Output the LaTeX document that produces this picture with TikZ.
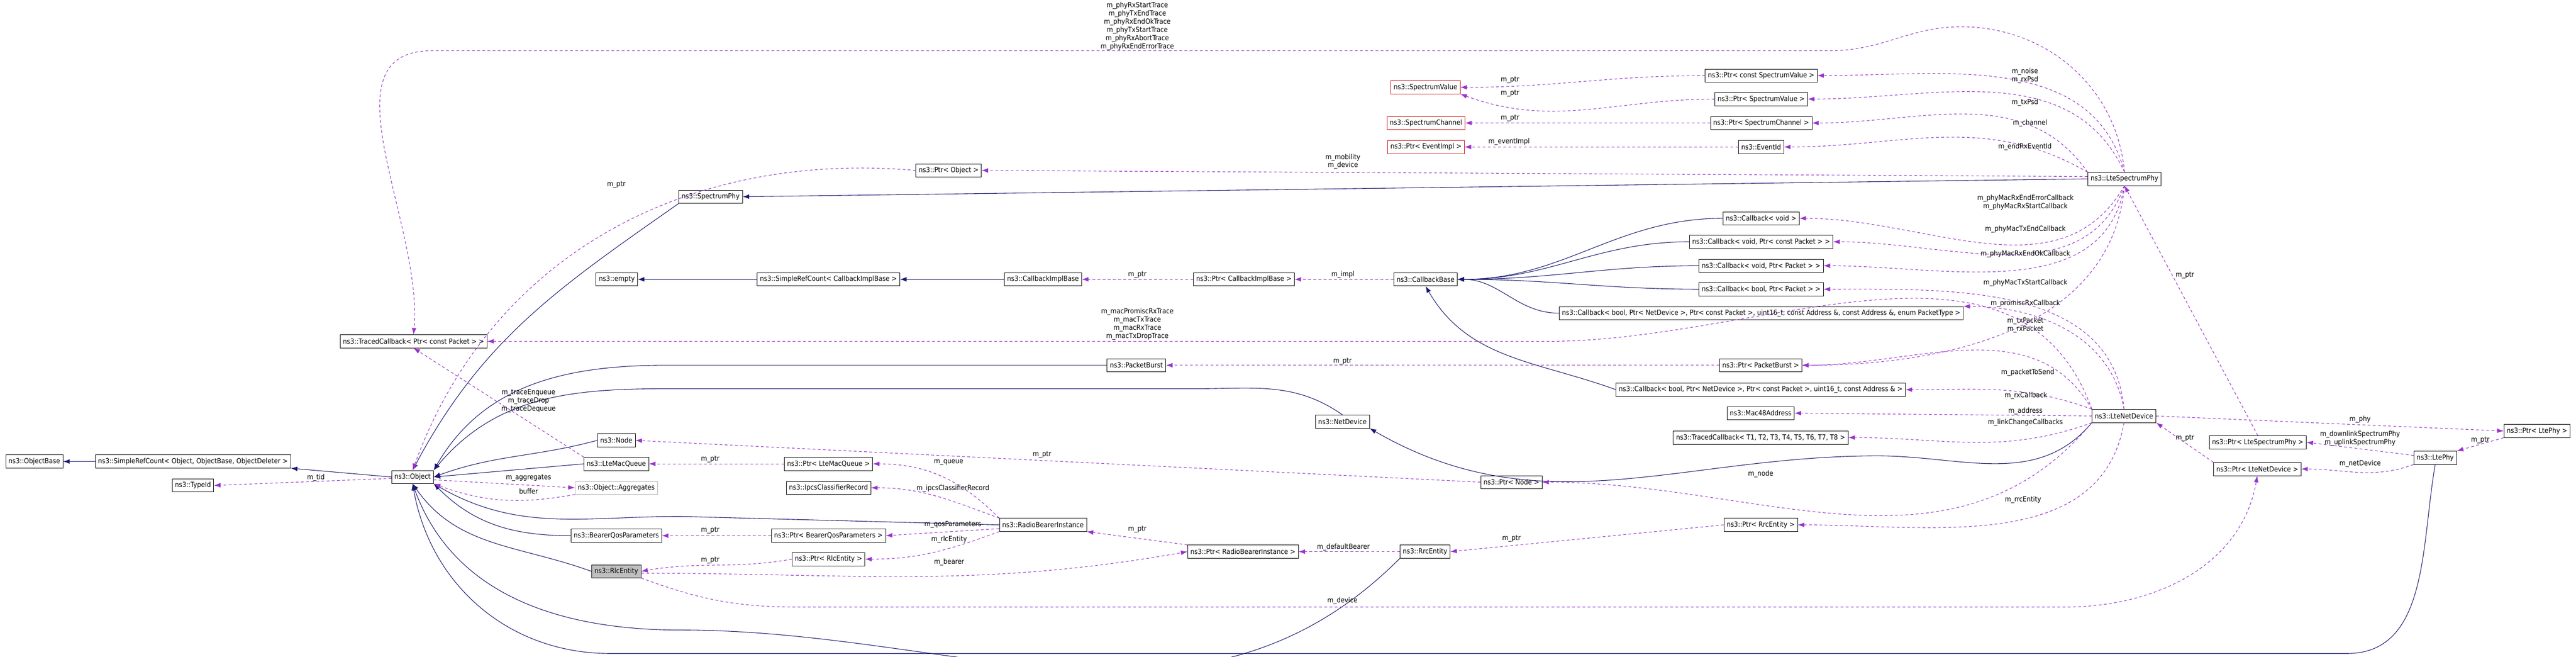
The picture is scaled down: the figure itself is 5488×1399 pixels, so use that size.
\documentclass[tikz,border=0pt]{standalone}
\usepackage{fontspec}
\setmainfont{DejaVu Sans Condensed}
\usetikzlibrary{arrows.meta}
\definecolor{inhcol}{HTML}{191970}
\definecolor{usecol}{HTML}{9A32CD}
\tikzset{
  cls/.style={draw, fill=white, minimum height=14pt, inner xsep=3pt, inner ysep=1pt, font=\fontsize{7.5}{8.75}\selectfont},
  redcls/.style={cls, draw=red!80!black},
  greycls/.style={cls, draw=black!30},
  inh/.style={draw=inhcol, line width=0.6pt, -{Latex[length=7pt,width=5pt]}},
  use/.style={draw=usecol, line width=0.6pt, dash pattern=on 3pt off 2.5pt, -{Latex[length=7pt,width=5pt]}},
  lbl/.style={font=\fontsize{7.5}{8.75}\selectfont, align=center, inner sep=0pt}
}
\begin{document}
\begin{tikzpicture}[x=0.5pt, y=0.5pt]
        \useasboundingbox (0,0) rectangle (5488,-1399);

        % Object and its bases
        \node[cls] (objbase) at (73,-983) {ns3::ObjectBase};
        \node[cls] (srcobj) at (411,-983) {ns3::SimpleRefCount< Object, ObjectBase, ObjectDeleter >};
        \node[cls] (typeid) at (411,-1034) {ns3::TypeId};
        \node[cls] (obj) at (879,-1016) {ns3::Object};
        \node[cls] (tcb) at (881,-727) {ns3::TracedCallback< Ptr< const Packet > >};

        % Column 1
        \node[cls] (spphy) at (1514,-419) {ns3::SpectrumPhy};
        \node[cls] (empty) at (1314,-595) {ns3::empty};
        \node[cls] (node) at (1313,-938) {ns3::Node};
        \node[cls] (lmq) at (1313,-988) {ns3::LteMacQueue};
        \node[greycls] (aggr) at (1313,-1039) {ns3::Object::Aggregates};
        \node[cls] (bqp) at (1313,-1141) {ns3::BearerQosParameters};
        \node[cls, fill=black!25] (rlc) at (1313,-1217) {ns3::RlcEntity};

        % Column 2
        \node[cls] (pobj) at (2021,-363) {ns3::Ptr< Object >};
        \node[cls] (srccb) at (1765,-595) {ns3::SimpleRefCount< CallbackImplBase >};
        \node[cls] (plmq) at (1765,-988) {ns3::Ptr< LteMacQueue >};
        \node[cls] (ipcs) at (1765,-1039) {ns3::IpcsClassifierRecord};
        \node[cls] (pbqp) at (1765,-1141) {ns3::Ptr< BearerQosParameters >};
        \node[cls] (prlc) at (1765,-1191) {ns3::Ptr< RlcEntity >};

        % Column 3
        \node[cls] (cbimpl) at (2222,-595) {ns3::CallbackImplBase};
        \node[cls] (pb) at (2421,-778) {ns3::PacketBurst};
        \node[cls] (rbi) at (2222,-1118) {ns3::RadioBearerInstance};
        \node[cls] (pcbimpl) at (2650,-595) {ns3::Ptr< CallbackImplBase >};
        \node[cls] (prbi) at (2648,-1175) {ns3::Ptr< RadioBearerInstance >};
        \node[cls] (netdev) at (2860,-898) {ns3::NetDevice};
        \node[cls] (rrc) at (3036,-1175) {ns3::RrcEntity};
        \node[cls] (pnode) at (3220,-1027) {ns3::Ptr< Node >};

        % Column 4
        \node[redcls] (sv) at (3037,-186) {ns3::SpectrumValue};
        \node[redcls] (sc) at (3038,-262) {ns3::SpectrumChannel};
        \node[redcls] (pev) at (3038,-313) {ns3::Ptr< EventImpl >};
        \node[cls] (cbb) at (3037,-595) {ns3::CallbackBase};

        % Column 5
        \node[cls] (pcsv) at (3752,-161) {ns3::Ptr< const SpectrumValue >};
        \node[cls] (psv) at (3752,-211) {ns3::Ptr< SpectrumValue >};
        \node[cls] (psc) at (3752,-262) {ns3::Ptr< SpectrumChannel >};
        \node[cls] (eid) at (3752,-313) {ns3::EventId};
        \node[cls] (cbv) at (3752,-465) {ns3::Callback< void >};
        \node[cls] (cbvcp) at (3752,-515) {ns3::Callback< void, Ptr< const Packet > >};
        \node[cls] (cbvp) at (3752,-566) {ns3::Callback< void, Ptr< Packet > >};
        \node[cls] (cbbp) at (3752,-616) {ns3::Callback< bool, Ptr< Packet > >};
        \node[cls] (cbbig) at (3752,-667) {ns3::Callback< bool, Ptr< NetDevice >, Ptr< const Packet >, uint16\_t, const Address \&, const Address \&, enum PacketType >};
        \node[cls] (ppb) at (3751,-778) {ns3::Ptr< PacketBurst >};
        \node[cls] (cbrx) at (3751,-830) {ns3::Callback< bool, Ptr< NetDevice >, Ptr< const Packet >, uint16\_t, const Address \& >};
        \node[cls] (mac) at (3751,-880) {ns3::Mac48Address};
        \node[cls] (tcbt) at (3751,-932) {ns3::TracedCallback< T1, T2, T3, T4, T5, T6, T7, T8 >};
        \node[cls] (prrc) at (3751,-1118) {ns3::Ptr< RrcEntity >};

        % LTE phy and device
        \node[cls] (lsp) at (4526,-381) {ns3::LteSpectrumPhy};
        \node[cls] (lnd) at (4525,-886) {ns3::LteNetDevice};
        \node[cls] (plsp) at (4810,-942) {ns3::Ptr< LteSpectrumPhy >};
        \node[cls] (plnd) at (4809,-999) {ns3::Ptr< LteNetDevice >};
        \node[cls] (ltephy) at (5188,-975) {ns3::LtePhy};
        \node[cls] (pltephy) at (5405,-918) {ns3::Ptr< LtePhy >};

        % Inheritance
        \draw[inh] (obj.west) -- (srcobj.south east);
        \draw[inh] (srcobj.west) -- (objbase.east);
        \draw[inh] (spphy.south west) to[out=215,in=62] (obj.north);
        \draw[inh] (lsp.west) -- (spphy.east);
        \draw[inh] (pb.west) -- (1420,-778) to[out=180,in=60] (obj.north east);
        \draw[inh] (netdev.north) to[out=145,in=0] (2550,-828) -- (1420,-828) to[out=180,in=50] (obj.north east);
        \draw[inh] (lnd.south west) to[out=230,in=0] (4000,-971) to[out=180,in=-30] (netdev.south east);
        \draw[inh] (node.west) to[out=195,in=20] (obj.east);
        \draw[inh] (lmq.west) -- (obj.east);
        \draw[inh] (rbi.west) -- (1450,-1100) to[out=180,in=-30] (obj.south east);
        \draw[inh] (bqp.west) to[out=180,in=-45] (obj.south east);
        \draw[inh] (rlc.west) to[out=160,in=-55] (obj.south);
        \draw[inh] (rrc.south west) to[out=225,in=0] (1450,-1342) to[out=180,in=-70] (obj.south);
        \draw[inh] (ltephy.south) to[out=260,in=0] (5000,-1392) -- (1300,-1392) to[out=180,in=-80] (obj.south);
        \foreach \cb in {cbv, cbvcp, cbvp, cbbp, cbbig}
          \draw[inh] (\cb.west) to[out=180,in=0] (cbb.east);
        \draw[inh] (cbrx.west) to[out=160,in=-60] (cbb.south);
        \draw[inh] (cbimpl.west) -- (srccb.east);
        \draw[inh] (srccb.west) -- (empty.east);

        % Object members
        \draw[use] (obj.west) ++(0,-3) -- (typeid.east);
        \node[lbl] (ltid) at (673,-1017) {m\_tid};
        \draw[use] (obj.east) ++(0,-6) -- (aggr.west);
        \node[lbl] (laggr) at (1126,-1018) {m\_aggregates};
        \draw[use] (aggr.south west) to[out=190,in=-20] (obj.south east);
        \node[lbl] (lbuf) at (1126,-1046) {buffer};
        \draw[use] (lmq.north west) -- (tcb.south);
        \node[lbl] (ltrace) at (1126,-854) {m\_traceEnqueue\\m\_traceDrop\\m\_traceDequeue};
        \draw[use] (pobj.west) to[out=175,in=70] (obj.north);
        \node[lbl] (lpobj) at (1313,-393) {m\_ptr};

        % Bearer members
        \draw[use] (plmq.west) -- (lmq.east);
        \node[lbl] (lplmq) at (1513,-978) {m\_ptr};
        \draw[use] (rbi.north west) to[out=135,in=0] (plmq.east);
        \node[lbl] (lqueue) at (2021,-985) {m\_queue};
        \draw[use] (rbi.north west) to[out=160,in=0] (ipcs.east);
        \node[lbl] (lipcs) at (2030,-1040) {m\_ipcsClassifierRecord};
        \draw[use] (rbi.west) ++(0,-8) -- (pbqp.east);
        \node[lbl] (lqos) at (2030,-1117) {m\_qosParameters};
        \draw[use] (pbqp.west) -- (bqp.east);
        \node[lbl] (lpbqp) at (1513,-1130) {m\_ptr};
        \draw[use] (rbi.south west) to[out=200,in=0] (prlc.east);
        \node[lbl] (lrlcent) at (2022,-1149) {m\_rlcEntity};
        \draw[use] (prlc.west) to[out=190,in=10] (rlc.east);
        \node[lbl] (lprlc) at (1513,-1193) {m\_ptr};
        \draw[use] (rlc.east) ++(0,-4) to[out=0,in=190] (prbi.west);
        \node[lbl] (lbearer) at (2022,-1197) {m\_bearer};
        \draw[use] (prbi.north west) -- (rbi.south east);
        \node[lbl] (lprbi) at (2423,-1128) {m\_ptr};
        \draw[use] (rrc.west) -- (prbi.east);
        \node[lbl] (ldefb) at (2862,-1165) {m\_defaultBearer};
        \draw[use] (prrc.west) -- (rrc.east);
        \node[lbl] (lprrc) at (3220,-1147) {m\_ptr};
        \draw[use] (rlc.south east) to[out=-20,in=180] (1700,-1293) -- (4400,-1293) to[out=0,in=260] (plnd.south);
        \node[lbl] (ldev) at (2860,-1280) {m\_device};

        % Callback members
        \draw[use] (cbb.west) -- (pcbimpl.east);
        \node[lbl] (limpl) at (2861,-585) {m\_impl};
        \draw[use] (pcbimpl.west) -- (cbimpl.east);
        \node[lbl] (lpcbimpl) at (2423,-585) {m\_ptr};

        % Spectrum members
        \draw[use] (pcsv.west) to[out=180,in=0] (sv.east);
        \node[lbl] (lpcsv) at (3217,-170) {m\_ptr};
        \draw[use] (psv.west) to[out=180,in=-20] (sv.south east);
        \node[lbl] (lpsv) at (3217,-199) {m\_ptr};
        \draw[use] (psc.west) -- (sc.east);
        \node[lbl] (lpsc) at (3217,-252) {m\_ptr};
        \draw[use] (eid.west) -- (pev.east);
        \node[lbl] (lpev) at (3215,-302) {m\_eventImpl};

        % LteSpectrumPhy members
        \draw[use] (lsp.north) to[out=95,in=0] (4178,-57) to[out=180,in=0] (3900,-108) -- (920,-108) to[out=180,in=85] (tcb.north);
        \node[lbl] (lphytr) at (2423,-56) {m\_phyRxStartTrace\\m\_phyTxEndTrace\\m\_phyRxEndOkTrace\\m\_phyTxStartTrace\\m\_phyRxAbortTrace\\m\_phyRxEndErrorTrace};
        \draw[use] (lsp.north) to[out=105,in=0] (pcsv.east);
        \node[lbl] (lnoise) at (4314,-161) {m\_noise\\m\_rxPsd};
        \draw[use] (lsp.north) to[out=115,in=0] (psv.east);
        \node[lbl] (ltxpsd) at (4314,-218) {m\_txPsd};
        \draw[use] (lsp.north west) to[out=125,in=0] (psc.east);
        \node[lbl] (lchan) at (4325,-262) {m\_channel};
        \draw[use] (lsp.north west) to[out=150,in=0] (eid.east);
        \node[lbl] (lendrx) at (4314,-313) {m\_endRxEventId};
        \draw[use] (lsp.west) ++(0,5) -- (pobj.east);
        \node[lbl] (lmob) at (2861,-344) {m\_mobility\\m\_device};
        \draw[use] (lsp.south) to[out=240,in=0] (cbv.east);
        \node[lbl] (lcbv) at (4315,-431) {m\_phyMacRxEndErrorCallback\\m\_phyMacRxStartCallback};
        \draw[use] (lsp.south) to[out=250,in=0] (cbvcp.east);
        \node[lbl] (lcbvcp) at (4315,-488) {m\_phyMacTxEndCallback};
        \draw[use] (lsp.south) to[out=260,in=0] (cbvp.east);
        \node[lbl] (lcbvp) at (4315,-541) {m\_phyMacRxEndOkCallback};
        \draw[use] (lsp.south) to[out=265,in=0] (ppb.east);
        \node[lbl] (lrxpk) at (4315,-692) {m\_txPacket\\m\_rxPacket};

        % LteNetDevice members
        \draw[use] (lnd.north) to[out=95,in=0] (cbbp.east);
        \node[lbl] (lcbbp) at (4315,-602) {m\_phyMacTxStartCallback};
        \draw[use] (lnd.north) to[out=100,in=0] (cbbig.north east);
        \node[lbl] (lprom) at (4315,-646) {m\_promiscRxCallback};
        \draw[use] (lnd.north west) to[out=110,in=0] (3300,-727) -- (tcb.east);
        \node[lbl] (lmactr) at (2423,-690) {m\_macPromiscRxTrace\\m\_macTxTrace\\m\_macRxTrace\\m\_macTxDropTrace};
        \draw[use] (lnd.north west) to[out=120,in=0] (ppb.east);
        \node[lbl] (lpts) at (4320,-793) {m\_packetToSend};
        \draw[use] (ppb.west) -- (pb.east);
        \node[lbl] (lppb) at (2860,-770) {m\_ptr};
        \draw[use] (lnd.north west) to[out=160,in=0] (cbrx.east);
        \node[lbl] (lrxcb) at (4316,-843) {m\_rxCallback};
        \draw[use] (lnd.west) -- (mac.east);
        \node[lbl] (laddr) at (4315,-876) {m\_address};
        \draw[use] (lnd.south west) to[out=200,in=0] (tcbt.east);
        \node[lbl] (llink) at (4315,-900) {m\_linkChangeCallbacks};
        \draw[use] (lnd.south west) to[out=230,in=0] (pnode.east);
        \node[lbl] (lnode) at (3751,-1010) {m\_node};
        \draw[use] (pnode.west) -- (node.east);
        \node[lbl] (lpnode) at (2220,-968) {m\_ptr};
        \draw[use] (lnd.south) to[out=260,in=0] (prrc.east);
        \node[lbl] (lrrc) at (4310,-1065) {m\_rrcEntity};
        \draw[use] (lnd.east) -- (pltephy.west);
        \node[lbl] (lphy) at (5028,-893) {m\_phy};

        % LtePhy members
        \draw[use] (pltephy.south west) -- (ltephy.north east);
        \node[lbl] (lpltephy) at (5284,-938) {m\_ptr};
        \draw[use] (ltephy.west) ++(0,5) -- (plsp.east);
        \node[lbl] (lspec) at (5028,-934) {m\_downlinkSpectrumPhy\\m\_uplinkSpectrumPhy};
        \draw[use] (ltephy.south west) to[out=200,in=0] (plnd.east);
        \node[lbl] (lnetdev) at (5028,-988) {m\_netDevice};
        \draw[use] (plsp.north) -- (lsp.south);
        \node[lbl] (lplsp) at (4655,-586) {m\_ptr};
        \draw[use] (plnd.north west) -- (lnd.south east);
        \node[lbl] (lplnd) at (4655,-933) {m\_ptr};

\end{tikzpicture}
\end{document}
